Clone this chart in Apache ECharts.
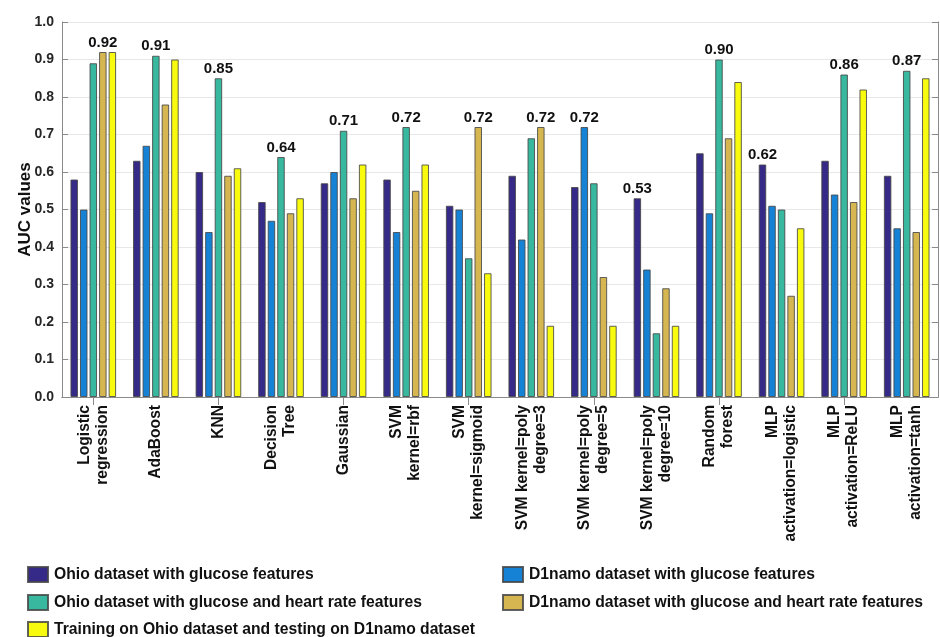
<!DOCTYPE html>
<html>
<head>
<meta charset="utf-8">
<script src="https://cdn.jsdelivr.net/npm/echarts@6/dist/echarts.min.js"></script>
<style>html,body{margin:0;padding:0;background:#fff}#c{width:940px;height:637px}</style>
</head>
<body>
<div id="c"></div>
<script>
var categories = ["Logistic\nregression","AdaBoost","KNN","Decision\nTree","Gaussian","SVM\nkernel=rbf","SVM\nkernel=sigmoid","SVM kernel=poly\ndegree=3","SVM kernel=poly\ndegree=5","SVM kernel=poly\ndegree=10","Random\nforest","MLP\nactivation=logistic","MLP\nactivation=ReLU","MLP\nactivation=tanh"];
var seriesNames = ["Ohio dataset with glucose features","D1namo dataset with glucose features","Ohio dataset with glucose and heart rate features","D1namo dataset with glucose and heart rate features","Training on Ohio dataset and testing on D1namo dataset"];
var ohioGlucose = [0.58,0.63,0.60,0.52,0.57,0.58,0.51,0.59,0.56,0.53,0.65,0.62,0.63,0.59];
var d1namoGlucose = [0.50,0.67,0.44,0.47,0.60,0.44,0.50,0.42,0.72,0.34,0.49,0.51,0.54,0.45];
var ohioGlucoseHR = [0.89,0.91,0.85,0.64,0.71,0.72,0.37,0.69,0.57,0.17,0.90,0.50,0.86,0.87];
var d1namoGlucoseHR = [0.92,0.78,0.59,0.49,0.53,0.55,0.72,0.72,0.32,0.29,0.69,0.27,0.52,0.44];
var ohioToD1namo = [0.92,0.90,0.61,0.53,0.62,0.62,0.33,0.19,0.19,0.19,0.84,0.45,0.82,0.85];
var yTicks = [0,0.1,0.2,0.3,0.4,0.5,0.6,0.7,0.8,0.9,1.0];
var colors = ["#352A87","#1582D6","#37B89F","#D5B650","#F9FB0E"];

var allData = [ohioGlucose,d1namoGlucose,ohioGlucoseHR,d1namoGlucoseHR,ohioToD1namo];
var maxIdx = categories.map(function(_, i){
  var best = 0;
  for (var s = 1; s < allData.length; s++) if (allData[s][i] > allData[best][i]) best = s;
  return best;
});

var series = allData.map(function(arr, s){
  return {
    name: seriesNames[s],
    type: 'bar',
    barGap: '27%',
    barCategoryGap: '27%',
    itemStyle: {color: colors[s], borderColor: 'rgba(70,70,70,0.85)', borderWidth: 1},
    emphasis: {disabled: true},
    data: arr.map(function(v, i){
      var item = {value: v};
      if (maxIdx[i] === s) {
        item.label = {show: true, position: 'top', distance: 2, formatter: function(p){return p.value.toFixed(2);},
          fontFamily: 'Liberation Sans', fontWeight: 'bold', fontSize: 15, color: '#111'};
      }
      return item;
    })
  };
});

var legendPos = [[27,566],[502,566],[27,594],[502,594],[27,621]];
var legends = seriesNames.map(function(n, s){
  return {
    data: [n], left: legendPos[s][0], top: legendPos[s][1], padding: 0,
    icon: 'rect', itemWidth: 20, itemHeight: 15, itemGap: 0,
    textStyle: {fontFamily: 'Liberation Sans', fontWeight: 'bold', fontSize: 15.7, lineHeight: 15, color: '#111', padding: [0,0,0,1]},
    selectedMode: false
  };
});

var chart = echarts.init(document.getElementById('c'));
chart.setOption({
  animation: false,
  backgroundColor: '#fff',
  legend: legends,
  grid: {left: 62, right: 2, top: 22, bottom: 240, containLabel: false, outerBoundsMode: 'none'},
  xAxis: [{
    type: 'category', data: categories, position: 'bottom',
    axisLine: {lineStyle: {color: '#8a8a8a'}},
    axisTick: {show: false},
    axisLabel: {rotate: 90, margin: 8, interval: 0, fontFamily: 'Liberation Sans', fontWeight: 'bold', fontSize: 15.6, lineHeight: 18, color: '#111'}
  },{
    type: 'category', data: categories, position: 'top',
    axisLine: {show: true, lineStyle: {color: '#8a8a8a'}},
    axisTick: {show: true, inside: true, length: 8, alignWithLabel: true, lineStyle: {color: '#8a8a8a'}},
    axisLabel: {show: false}
  }],
  yAxis: [{
    type: 'value', min: 0, max: 1, interval: 0.1,
    name: 'AUC values', nameLocation: 'middle', nameGap: 28, nameRotate: 90, nameMoveOverlap: false,
    nameTextStyle: {fontFamily: 'Liberation Sans', fontWeight: 'bold', fontSize: 17, color: '#111'},
    axisLine: {show: true, lineStyle: {color: '#8a8a8a'}},
    axisTick: {show: true, inside: true, length: 6, lineStyle: {color: '#8a8a8a'}},
    splitLine: {show: true, lineStyle: {color: '#e8e8e8'}},
    axisLabel: {margin: 8, fontFamily: 'Liberation Sans', fontWeight: 'bold', fontSize: 14, color: '#262626',
      formatter: function(v){return v.toFixed(1);}}
  },{
    type: 'value', min: 0, max: 1, interval: 0.1, position: 'right',
    axisLine: {show: true, lineStyle: {color: '#8a8a8a'}},
    axisTick: {show: true, inside: true, length: 6, lineStyle: {color: '#8a8a8a'}},
    splitLine: {show: false},
    axisLabel: {show: false}
  }],
  series: series
});
</script>
</body>
</html>
